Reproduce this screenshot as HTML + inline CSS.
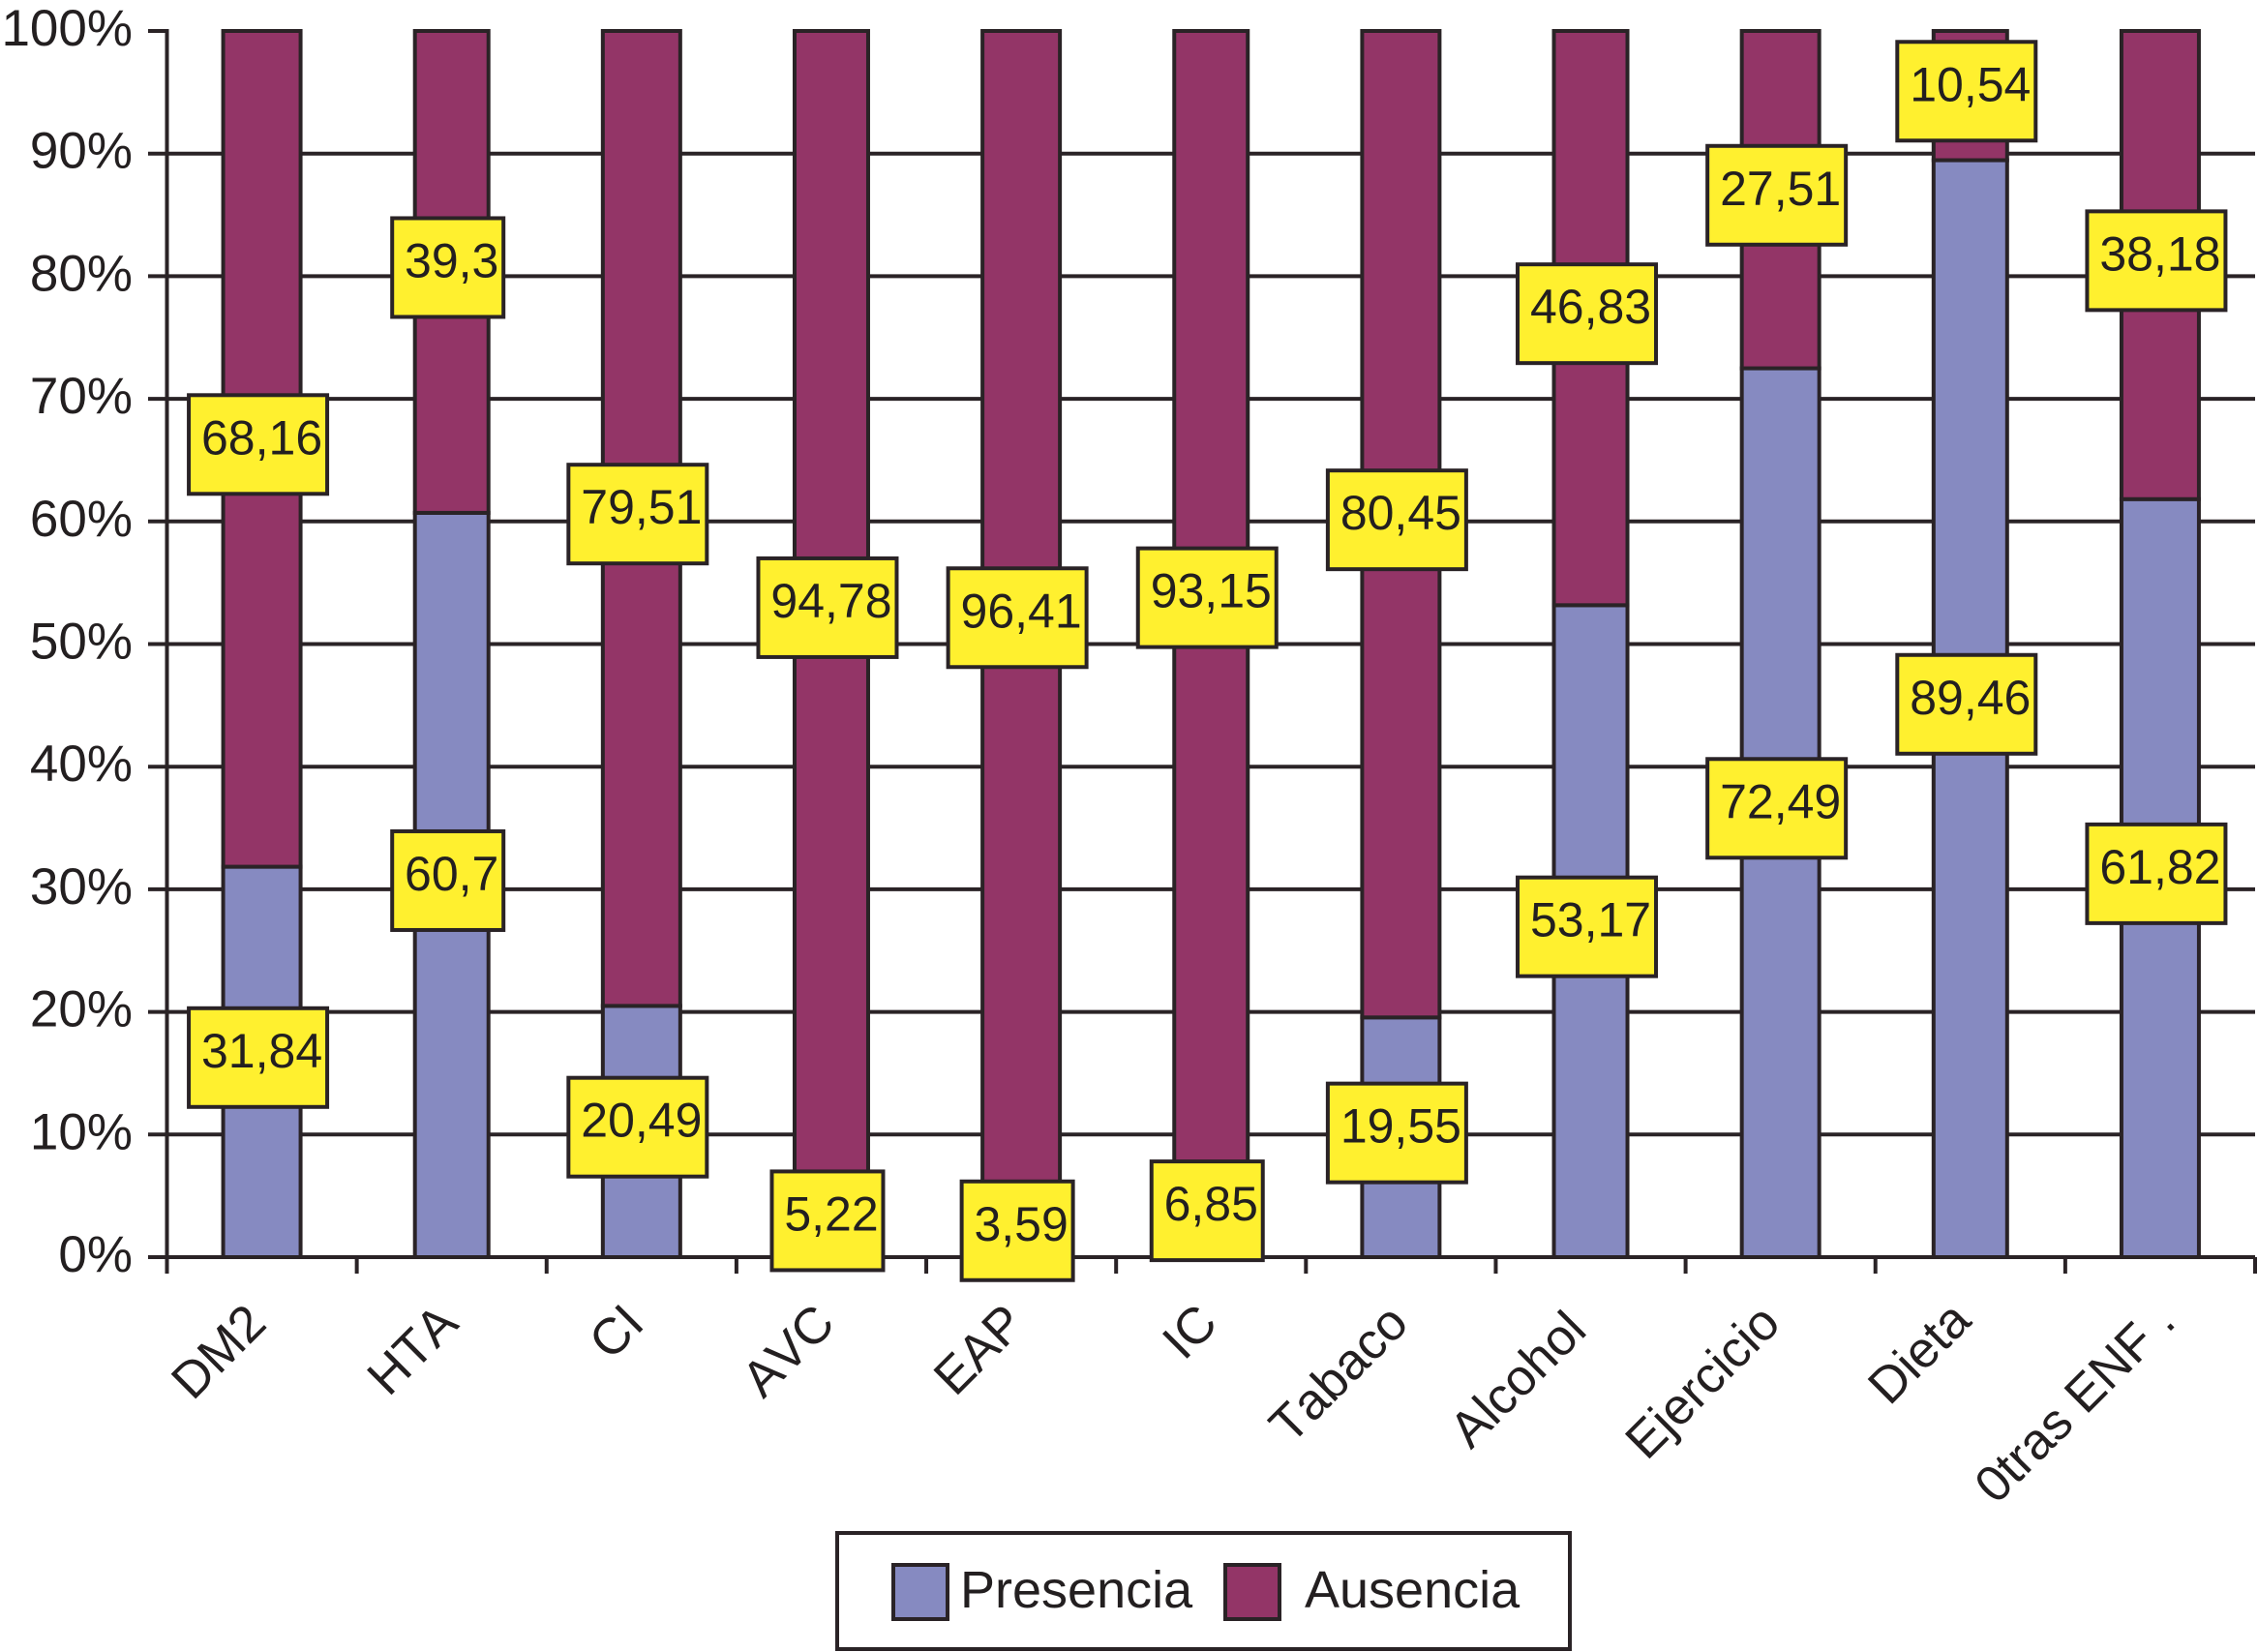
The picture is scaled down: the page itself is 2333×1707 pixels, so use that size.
<!DOCTYPE html>
<html lang="es">
<head>
<meta charset="utf-8">
<title>Presencia y Ausencia</title>
<style>
html,body{margin:0;padding:0;background:#fff;width:2333px;height:1707px;overflow:hidden}
svg{display:block}
text{font-family:"Liberation Sans",Arial,sans-serif;fill:#231f20}
</style>
</head>
<body>
<svg id="chart" xmlns="http://www.w3.org/2000/svg" width="2333" height="1707" viewBox="0 0 2333 1707">
  <g id="grid"></g>
  <g id="bars"></g>
  <g id="axes"></g>
  <g id="labels"></g>
  <g>
    <rect x="865" y="1584" width="757" height="120" fill="#fff" stroke="#2a2326" stroke-width="4"/>
    <rect x="923" y="1617" width="56" height="56" fill="#868ac1" stroke="#2a2326" stroke-width="4"/>
    <text x="992" y="1661" font-size="54">Presencia</text>
    <rect x="1266" y="1617" width="56" height="56" fill="#933567" stroke="#2a2326" stroke-width="4"/>
    <text x="1348" y="1661" font-size="54">Ausencia</text>
  </g>
</svg>
<script>
const categories = ["DM2","HTA","CI","AVC","EAP","IC","Tabaco","Alcohol","Ejercicio","Dieta","0tras ENF ."];
const presencia = [31.84,60.7,20.49,5.22,3.59,6.85,19.55,53.17,72.49,89.46,61.82];
const ausencia = [68.16,39.3,79.51,94.78,96.41,93.15,80.45,46.83,27.51,10.54,38.18];
const yTicks = [0,10,20,30,40,50,60,70,80,90,100];

const NS = "http://www.w3.org/2000/svg";
const STROKE = "#2a2326";
const SW = 4;
const PLOT_LEFT = 172.5, PLOT_RIGHT = 2330, PLOT_TOP = 32, PLOT_BOTTOM = 1299;
const stepX = (PLOT_RIGHT - PLOT_LEFT) / categories.length;
function xEdge(i){ return PLOT_LEFT + i * stepX; }
function xCenter(i){ return xEdge(i) + stepX / 2; }
function yScale(v){ return PLOT_BOTTOM - (v / 100) * (PLOT_BOTTOM - PLOT_TOP); }
function make(tag, attrs, parent){
  const el = document.createElementNS(NS, tag);
  for (const k in attrs) el.setAttribute(k, attrs[k]);
  parent.appendChild(el);
  return el;
}
const gridG = document.getElementById("grid");
const barsG = document.getElementById("bars");
const axesG = document.getElementById("axes");
const labelsG = document.getElementById("labels");

yTicks.forEach(function(t){
  const y = yScale(t);
  if (t > 0 && t < 100) {
    const line = make("line", {x1:PLOT_LEFT, x2:PLOT_RIGHT, y1:y, y2:y, stroke:STROKE, "stroke-width":SW}, gridG);
    
    
  }
  const tick = make("line", {x1:153, x2:PLOT_LEFT, y1:y, y2:y, stroke:STROKE, "stroke-width":SW}, axesG);
  
  
  const label = make("text", {x:137, y:y + 15, "font-size":53, "text-anchor":"end"}, axesG);
  label.textContent = t + "%";
  
  
});

const yAxis = make("line", {x1:PLOT_LEFT, x2:PLOT_LEFT, y1:PLOT_TOP - 2, y2:1316, stroke:STROKE, "stroke-width":SW}, axesG);



function labelAnchor(name){
  const dx = {"DM2":7,"HTA":9,"CI":5,"AVC":6,"EAP":6,"IC":9,"Tabaco":10,"Alcohol":-2,"Ejercicio":2,"Dieta":3,"0tras ENF .":18};
  const dy = {"Alcohol":7,"Dieta":-3,"0tras ENF .":-2};
  return {dx: dx[name] || 0, dy: dy[name] || 0};
}

categories.forEach(function(c, i){
  const w = (i % 2 === 0 ? 84 : 80) - SW;
  const left = xCenter(i) - w / 2;
  const yMid = yScale(presencia[i]);
  const yTop = yScale(presencia[i] + ausencia[i]);
  const barP = make("rect", {x:left, y:yMid, width:w, height:PLOT_BOTTOM - yMid, fill:"#868ac1", stroke:STROKE, "stroke-width":SW}, barsG);
  
  
  const barA = make("rect", {x:left, y:yTop, width:w, height:yMid - yTop, fill:"#933567", stroke:STROKE, "stroke-width":SW}, barsG);
  
  

  const tick = make("line", {x1:xEdge(i + 1), x2:xEdge(i + 1), y1:PLOT_BOTTOM, y2:1316, stroke:STROKE, "stroke-width":SW}, axesG);
  
  

  const nudge = labelAnchor(c);
  const ax = xCenter(i) + nudge.dx, ay = 1370 + nudge.dy;
  const catLabel = make("text", {x:ax, y:ay, "font-size":52.5, "text-anchor":"end", style:"font-kerning:none", transform:"rotate(-45 " + ax + " " + ay + ")"}, axesG);
  catLabel.textContent = c;
  
  
});

const xAxis = make("line", {x1:PLOT_LEFT, x2:PLOT_RIGHT, y1:PLOT_BOTTOM, y2:PLOT_BOTTOM, stroke:STROKE, "stroke-width":SW}, axesG);



function addLabel(i, value, midValue, series){
  const txt = String(value).replace(".", ",");
  const w = txt.length >= 5 ? 143 : 115;
  const h = 102;
  const cx = xCenter(i) - 4;
  const cy = yScale(midValue) - 4.5;
  const box = make("rect", {x:cx - w / 2, y:cy - h / 2, width:w, height:h, fill:"#fff02f", stroke:STROKE, "stroke-width":SW}, labelsG);
  
  
  const t = make("text", {x:cx + 4, y:cy + 10, "font-size":50, "text-anchor":"middle"}, labelsG);
  t.textContent = txt;
  
  
}
categories.forEach(function(c, i){
  addLabel(i, presencia[i], presencia[i] / 2, 'presencia');
  addLabel(i, ausencia[i], presencia[i] + ausencia[i] / 2, 'ausencia');
});
</script>
</body>
</html>
